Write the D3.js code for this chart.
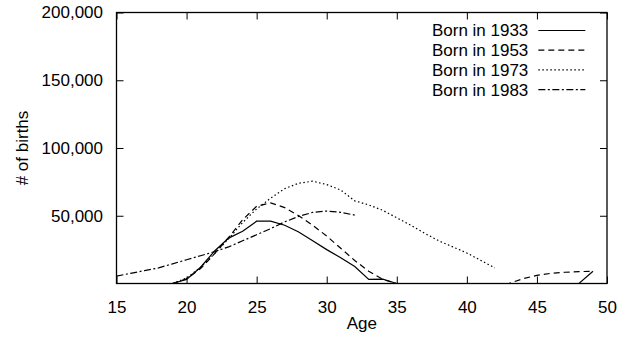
<!DOCTYPE html>
<html>
<head>
<meta charset="utf-8">
<script src="https://cdn.jsdelivr.net/npm/d3@7"></script>
<style>
  body { margin: 0; background: #fff; }
  text { font-family: "Liberation Sans", Arial, sans-serif; }
</style>
</head>
<body>
<div class="chart"></div>
<script>
// chart data
const ages1933 = d3.range(15, 50);
const births1933 = [0, 0, 0, 0, 0, 3000, 12000, 24000, 33500, 38500, 46000, 46000, 43000, 38000, 31500, 25000, 19000, 12500, 3000, 3200, 0,
  0, 0, 0, 0, 0, 0, 0, 0, 0, 0, 0, 0, 0, 9000];
const ages1953 = d3.range(19, 50);
const births1953 = [0, 3500, 11000, 22000, 34000, 47000, 57000, 59500, 56000, 50000, 43000, 35000, 26000, 17000, 9000, 3000, 0,
  0, 0, 0, 0, 0, 0, 0, 0, 3500, 6000, 7500, 8300, 8800, 9000];
const ages1973 = d3.range(19, 43);
const births1973 = [0, 4000, 12000, 22000, 33000, 45000, 55000, 63000, 70000, 74000, 75500, 73000, 69000, 61000, 58000, 54000,
  48500, 43000, 37000, 31500, 27000, 22500, 17000, 11500];
const ages1983 = d3.range(15, 33);
const births1983 = [5500, 7500, 9500, 11500, 14500, 17500, 20500, 23500, 27000, 31500, 36000, 40500, 45500, 49500, 52500, 53500,
  52500, 50500];

const seriesNames = ["Born in 1933", "Born in 1953", "Born in 1973", "Born in 1983"];
const xTicks = [15, 20, 25, 30, 35, 40, 45, 50];
const yTicks = [50000, 100000, 150000, 200000];

const series = [
  {name: seriesNames[0], x: ages1933, y: births1933, dash: null},
  {name: seriesNames[1], x: ages1953, y: births1953, dash: "6,4"},
  {name: seriesNames[2], x: ages1973, y: births1973, dash: "1.5,2.5"},
  {name: seriesNames[3], x: ages1983, y: births1983, dash: "7,2.5,2,2.5"}
];

const w = 629, h = 349;
const margin = {top: 12.5, right: 22, bottom: 65.5, left: 116.5};
const iw = w - margin.left - margin.right;
const ih = h - margin.top - margin.bottom;
const fs = "17px";

const svg = d3.select(".chart").append("svg")
  .attr("width", w)
  .attr("height", h);

const g = svg.append("g").attr("transform", `translate(${margin.left},${margin.top})`);

const x = d3.scaleLinear().domain([15, 50]).range([0, iw]);
const y = d3.scaleLinear().domain([0, 200000]).range([ih, 0]);
const fmt = d3.format(",");

// axes: inward ticks, mirrored on top and right
const tk = 7;
g.append("g").attr("transform", `translate(0,${ih})`)
  .call(d3.axisBottom(x).tickValues(xTicks).tickSize(-tk).tickPadding(17).tickFormat(d3.format("d")));
g.append("g")
  .call(d3.axisTop(x).tickValues(xTicks).tickSize(-tk).tickFormat(""));
g.append("g")
  .call(d3.axisLeft(y).tickValues(yTicks).tickSize(-tk).tickPadding(13.5).tickFormat(fmt));
g.append("g").attr("transform", `translate(${iw},0)`)
  .call(d3.axisRight(y).tickValues(yTicks).tickSize(-tk).tickFormat(""));

g.selectAll(".domain").remove();
g.selectAll(".tick line").attr("stroke", "#000");
g.selectAll(".tick text").attr("fill", "#000").style("font-size", fs);

g.append("rect")
  .attr("width", iw).attr("height", ih)
  .attr("fill", "none").attr("stroke", "#000").attr("stroke-width", 1.3);

// lines
const line = d3.line().x(d => x(d[0])).y(d => y(d[1]));
g.selectAll(".series")
  .data(series)
  .enter()
  .append("path")
  .attr("class", "series")
  .attr("d", s => line(s.x.map((a, i) => [a, s.y[i]])))
  .attr("fill", "none")
  .attr("stroke", "#000")
  .attr("stroke-width", 1.2)
  .attr("stroke-dasharray", s => s.dash);

// legend
const leg = g.append("g").attr("transform", `translate(${x(45.1)},${18})`);
const rows = leg.selectAll("g").data(series).enter().append("g")
  .attr("transform", (d, i) => `translate(0,${i * 19.7})`);
rows.append("text")
  .attr("x", -10).attr("dy", "0.35em")
  .attr("text-anchor", "end")
  .style("font-size", fs)
  .text(d => d.name);
rows.append("line")
  .attr("x1", 0).attr("x2", 47)
  .attr("stroke", "#000").attr("stroke-width", 1.2)
  .attr("stroke-dasharray", d => d.dash);

// axis titles
svg.append("text")
  .attr("x", margin.left + iw / 2).attr("y", 329)
  .attr("text-anchor", "middle")
  .style("font-size", fs)
  .text("Age");
svg.append("text")
  .attr("transform", `translate(28,${margin.top + ih / 2}) rotate(-90)`)
  .attr("text-anchor", "middle")
  .style("font-size", fs)
  .text("# of births");
</script>
</body>
</html>
